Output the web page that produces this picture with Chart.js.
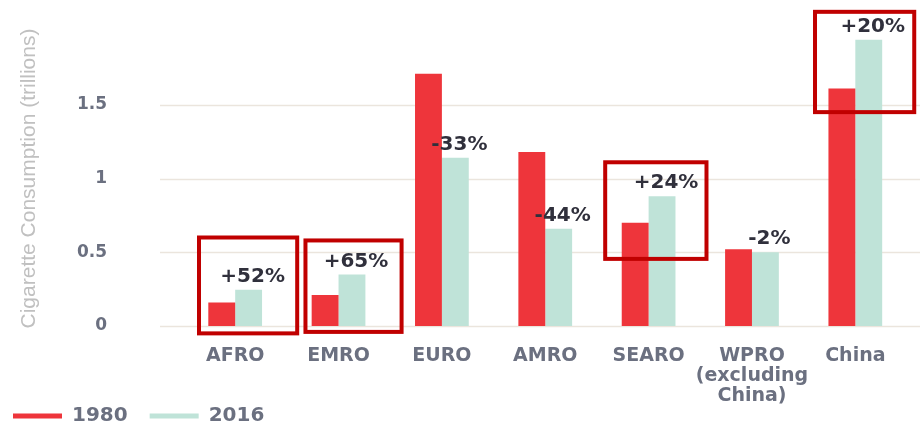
<!DOCTYPE html>
<html>
<head>
<meta charset="utf-8">
<script src="https://cdn.jsdelivr.net/npm/chart.js@4.4.1/dist/chart.umd.min.js"></script>
<style>
  html, body { margin: 0; padding: 0; background: #fff; overflow: hidden; }
  #wrap { width: 920px; height: 425px; position: relative; }
</style>
</head>
<body>
<div id="wrap"><canvas id="myChart"></canvas></div>
<script>
// data
const regions = ['AFRO', 'EMRO', 'EURO', 'AMRO', 'SEARO', ['WPRO', '(excluding', 'China)'], 'China'];
const values1980 = [0.16, 0.21, 1.71, 1.18, 0.70, 0.52, 1.61];
const values2016 = [0.245, 0.35, 1.14, 0.66, 0.88, 0.50, 1.94];
const changeLabels = ['+52%', '+65%', '-33%', '-44%', '+24%', '-2%', '+20%'];
const yTicks = [0, 0.5, 1, 1.5];

// red highlight boxes (category index, offsets in category widths, y in trillions)
const boxIndex = [0, 1, 4, 6];
const boxLeft = [-0.35, -0.32, -0.42, -0.39];
const boxRight = [0.60, 0.61, 0.56, 0.57];
const boxTop = [0.60, 0.58, 1.11, 2.13];
const boxBottom = [-0.05, -0.04, 0.455, 1.45];

const labelColor = '#6b7080';

const gridPlugin = {
    id: 'wideGrid',
    afterLayout(chart) {
        // let the 3-line category label run down past the axis box
        chart.scales.x.bottom = chart.height;
    },
    beforeDatasetsDraw(chart) {
        const ctx = chart.ctx;
        const y = chart.scales.y;
        ctx.save();
        ctx.strokeStyle = '#ebe5dd';
        ctx.lineWidth = 1.5;
        yTicks.forEach(v => {
            const py = Math.round(y.getPixelForValue(v)) + 0.5;
            ctx.beginPath();
            ctx.moveTo(160, py);
            ctx.lineTo(chart.width, py);
            ctx.stroke();
        });
        ctx.restore();
    }
};

const notesPlugin = {
    id: 'notes',
    afterDraw(chart) {
        const ctx = chart.ctx;
        const x = chart.scales.x;
        const y = chart.scales.y;
        const meta = chart.getDatasetMeta(1);
        ctx.save();
        ctx.fillStyle = '#30303c';
        ctx.font = 'bold 20px "DejaVu Sans"';
        ctx.textAlign = 'center';
        ctx.textBaseline = 'middle';
        meta.data.forEach((bar, i) => {
            ctx.fillText(changeLabels[i], bar.x + 4, bar.y - 13);
        });
        const catW = x.getPixelForValue(1) - x.getPixelForValue(0);
        ctx.strokeStyle = '#c00000';
        ctx.lineWidth = 4;
        boxIndex.forEach((idx, k) => {
            const cx = x.getPixelForValue(idx);
            const x0 = cx + boxLeft[k] * catW;
            const x1 = cx + boxRight[k] * catW;
            const y0 = y.getPixelForValue(boxTop[k]);
            const y1 = y.getPixelForValue(boxBottom[k]);
            ctx.strokeRect(x0, y0, x1 - x0, y1 - y0);
        });
        ctx.restore();
    }
};

const ctx = document.getElementById('myChart').getContext('2d');
const myChart = new Chart(ctx, {
    type: 'bar',
    data: {
        labels: regions,
        datasets: [{
            label: '1980',
            data: values1980,
            backgroundColor: '#ee353b',
            borderWidth: 0
        }, {
            label: '2016',
            data: values2016,
            backgroundColor: '#bfe3d8',
            borderWidth: 0
        }]
    },
    options: {
        responsive: true,
        maintainAspectRatio: false,
        animation: false,
        layout: { padding: { top: 31, right: 13, left: -9, bottom: -11 } },
        categoryPercentage: 0.52,
        barPercentage: 1.0,
        plugins: {
            tooltip: { enabled: false },
            legend: {
                position: 'bottom',
                align: 'start',
                labels: {
                    boxWidth: 49,
                    boxHeight: 5,
                    padding: 22,
                    color: labelColor,
                    font: { family: 'DejaVu Sans', size: 20, weight: 'bold' }
                }
            }
        },
        scales: {
            x: {
                grid: { display: false },
                border: { display: false },
                afterFit(scale) { scale.height = 58; },
                ticks: {
                    padding: 12,
                    color: labelColor,
                    maxRotation: 0,
                    autoSkip: false,
                    font: { family: 'DejaVu Sans', size: 19, weight: 'bold', lineHeight: '20px' }
                }
            },
            y: {
                min: 0,
                max: 2,
                grid: { display: false },
                border: { display: false },
                afterFit(scale) {
                    scale.width = 192.5;
                    scale.paddingTop = 0;
                    scale.paddingBottom = 0;
                },
                ticks: {
                    stepSize: 0.5,
                    padding: 68.5,
                    color: labelColor,
                    font: { family: 'DejaVu Sans', size: 17, weight: 'bold' },
                    callback: (v) => (yTicks.includes(v) ? String(v) : '')
                },
                title: {
                    display: true,
                    text: 'Cigarette Consumption (trillions)',
                    color: '#c0c0c0',
                    padding: { top: 26, bottom: 0 },
                    font: { family: 'Liberation Sans', size: 21, weight: 'normal' }
                }
            }
        }
    },
    plugins: [gridPlugin, notesPlugin]
});
</script>
</body>
</html>
